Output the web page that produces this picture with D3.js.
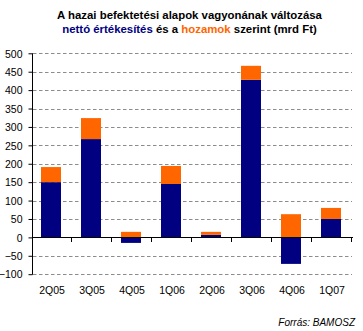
<!DOCTYPE html>
<html><head><meta charset="utf-8">
<script src="https://cdn.jsdelivr.net/npm/d3@7"></script>
<style>
html,body{margin:0;padding:0;background:#fff;}
svg text{font-family:"Liberation Sans",Arial,sans-serif;}
</style></head>
<body><svg id="c" width="363" height="331"></svg>
<script>
const categories = ["2Q05","3Q05","4Q05","1Q06","2Q06","3Q06","4Q06","1Q07"];
const nettoErtekesites = [150, 267, -15, 145, 7, 428, -72, 50];
const hozamok = [41, 57, 15, 49, 8, 38, 63, 30];
const yTicks = [-100,-50,0,50,100,150,200,250,300,350,400,450,500];
const seriesKeys = ["netto","hozam"];
const seriesColors = {netto:"#000080", hozam:"#FF6600"};

const svg = d3.select("#c");
const rows = categories.map((c,i)=>({cat:c, netto:nettoErtekesites[i], hozam:hozamok[i]}));

const x = d3.scaleBand().domain(categories).range([32,352]).paddingInner(0.5).paddingOuter(0.25);
const y = d3.scaleLinear().domain([-100,500]).range([274.2,53.3]);

// grid
svg.append("g").selectAll("line").data(yTicks.filter(v=>v!==0)).join("line")
  .attr("x1",33).attr("x2",352).attr("y1",d=>Math.round(y(d))+0.5).attr("y2",d=>Math.round(y(d))+0.5)
  .attr("stroke","#8c8c8c").attr("stroke-dasharray","3.5,2.5");

// bars
const stack = d3.stack().keys(seriesKeys).offset(d3.stackOffsetDiverging);
const layers = stack(rows);
svg.append("g").selectAll("g").data(layers).join("g")
  .attr("fill",d=>seriesColors[d.key])
  .selectAll("rect").data(d=>d).join("rect")
  .attr("x",d=>x(d.data.cat)-1)
  .attr("width",x.bandwidth())
  .attr("y",d=>y(Math.max(d[0],d[1])))
  .attr("height",d=>Math.abs(y(d[0])-y(d[1])));

// y axis
const ya = svg.append("g").attr("transform","translate(32.5,0)")
  .call(d3.axisLeft(y).tickValues(yTicks).tickSize(4).tickPadding(6).tickFormat(d3.format("d")));
ya.select(".domain").attr("d","M0,"+y(500)+"V"+(y(-100)+0.5));
ya.selectAll("text").attr("font-size","10.5px").attr("fill","#000").attr("dy","0.36em");
ya.selectAll(".tick line").attr("stroke","#000");

// x axis at zero
const step = x.step();
const bounds = categories.map(c=>x(c)+x.bandwidth()/2+step/2);
const xa = svg.append("g");
xa.append("line").attr("x1",32).attr("x2",353).attr("y1",Math.round(y(0))+0.5).attr("y2",Math.round(y(0))+0.5).attr("stroke","#000");
xa.selectAll("line.t").data(bounds).join("line").attr("class","t")
  .attr("x1",d=>Math.round(d)-0.5).attr("x2",d=>Math.round(d)-0.5)
  .attr("y1",Math.round(y(0))).attr("y2",Math.round(y(0))+5).attr("stroke","#000");
xa.selectAll("text").data(categories).join("text")
  .attr("x",d=>x(d)+x.bandwidth()/2).attr("y",294)
  .attr("text-anchor","middle").attr("font-size","10.5px").text(d=>d);

// title
const t = svg.append("text").attr("text-anchor","middle").attr("font-size","11.4px").attr("font-weight","bold");
t.append("tspan").attr("x",189.5).attr("y",19).text("A hazai befektetési alapok vagyonának változása");
const l2 = t.append("tspan").attr("x",189.5).attr("y",33);
l2.append("tspan").attr("fill","#000080").text("nettó értékesítés");
l2.append("tspan").text(" és a ");
l2.append("tspan").attr("fill","#FF6600").text("hozamok");
l2.append("tspan").text(" szerint (mrd Ft)");

// source
svg.append("text").attr("x",355).attr("y",326).attr("text-anchor","end")
  .attr("font-size","10px").attr("font-style","italic").text("Forrás: BAMOSZ");
</script></body></html>
